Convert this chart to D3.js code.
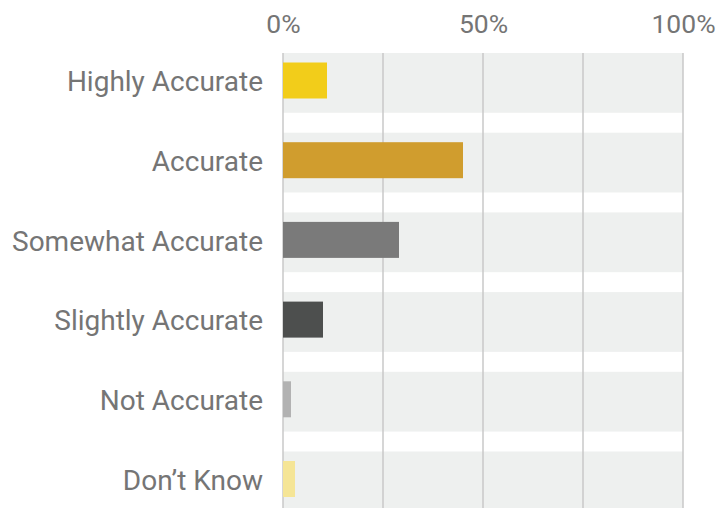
<!DOCTYPE html>
<html lang="en">
<head>
  <meta charset="UTF-8">
  <title>Accuracy ratings</title>
  <script src="https://d3js.org/d3.v7.min.js"></script>
  <style>
    body { margin: 0; background: #fff; }
    text { font-family: Roboto, sans-serif; fill: #757575; }
  </style>
</head>
<body>
<script>
  const categories = ["Highly Accurate", "Accurate", "Somewhat Accurate", "Slightly Accurate", "Not Accurate", "Don\u2019t Know"];
  const values = [11, 45, 29, 10, 2, 3];
  const colors = ["#f2cd1a", "#d09d2e", "#7a7a7a", "#4d4f4e", "#b2b2b2", "#f5e596"];
  const tickValues = [0, 50, 100];
  const gridValues = [0, 25, 50, 75, 100];

  const width = 722, height = 508;
  const svg = d3.select("body").append("svg")
    .attr("width", width)
    .attr("height", height);

  const step = 79.7;
  const x = d3.scaleLinear().domain([0, 100]).range([283, 683]);
  const y = d3.scaleBand().domain(categories)
    .range([53, 53 + step * 5.75])
    .paddingInner(0.25)
    .paddingOuter(0);

  // background bands
  svg.selectAll("rect.band")
    .data(categories)
    .join("rect")
    .attr("class", "band")
    .attr("x", x(0))
    .attr("y", d => y(d))
    .attr("width", x(100) - x(0))
    .attr("height", y.bandwidth())
    .attr("fill", "#eef0ef");

  // vertical grid lines
  svg.selectAll("line.grid")
    .data(gridValues)
    .join("line")
    .attr("class", "grid")
    .attr("x1", d => x(d))
    .attr("x2", d => x(d))
    .attr("y1", 53)
    .attr("y2", height)
    .attr("stroke", "#c9c9c9")
    .attr("stroke-width", 1.5);

  // bars
  const barH = 36;
  svg.selectAll("rect.bar")
    .data(values)
    .join("rect")
    .attr("class", "bar")
    .attr("x", x(0))
    .attr("y", (d, i) => y(categories[i]) + 9.5)
    .attr("width", d => x(d) - x(0))
    .attr("height", barH)
    .attr("fill", (d, i) => colors[i]);

  // category labels
  svg.selectAll("text.cat")
    .data(categories)
    .join("text")
    .attr("class", "cat")
    .attr("x", 263)
    .attr("y", d => y(d) + 9.5 + barH / 2 + 1)
    .attr("dy", "0.35em")
    .attr("text-anchor", "end")
    .style("font-size", "28px")
    .text(d => d);

  // top axis
  const axis = d3.axisTop(x)
    .tickValues(tickValues)
    .tickFormat(d => d + "%")
    .tickSize(0)
    .tickPadding(0);

  const gAxis = svg.append("g")
    .attr("transform", "translate(0,33)")
    .call(axis);
  gAxis.select(".domain").remove();
  gAxis.selectAll("text")
    .attr("dy", 0)
    .style("font-size", "26.5px")
    .style("font-family", "Roboto, sans-serif")
    .attr("fill", "#757575");
</script>
</body>
</html>
